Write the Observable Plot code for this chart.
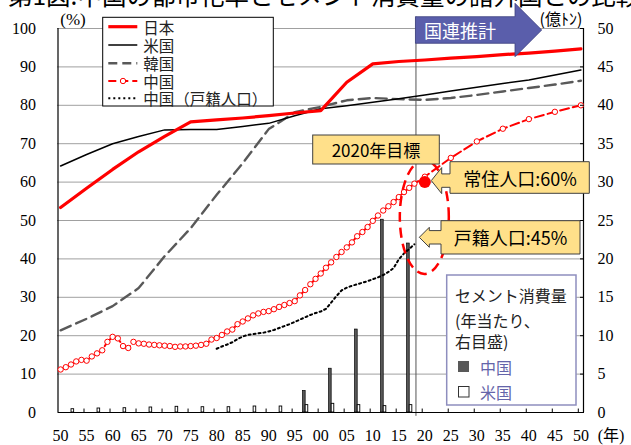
<!DOCTYPE html>
<html>
<head>
<meta charset="utf-8">
<script src="https://cdn.jsdelivr.net/npm/d3@7"></script>
<script src="https://cdn.jsdelivr.net/npm/@observablehq/plot@0.6"></script>
<style>
  body { margin: 0; background: #fff; }
  #wrap { position: relative; width: 631px; height: 445px; overflow: hidden; }
  #title { position: absolute; left: 8px; top: -17px; font: 400 24.5px/24px "Noto Sans CJK JP", sans-serif; white-space: nowrap; color: #000; }
  #chart { position: absolute; left: 0; top: 0; }
</style>
</head>
<body>
<div id="wrap">
  <div id="title">第1図:中国の都市化率とセメント消費量の諸外国との比較</div>
  <div id="chart"></div>
</div>
<script>
// Urbanization rate (%), five-year points, 1950–2050
const years5 = [1950, 1955, 1960, 1965, 1970, 1975, 1980, 1985, 1990, 1995, 2000,
                2005, 2010, 2015, 2020, 2025, 2030, 2035, 2040, 2045, 2050];
const japanUrban = [53.4, 58.4, 63.3, 67.9, 71.9, 75.7, 76.2, 76.7, 77.3, 78.0, 78.6,
                    86.0, 90.8, 91.4, 91.8, 92.3, 92.7, 93.2, 93.6, 94.1, 94.7];
const usUrban = [64.2, 67.2, 70.0, 71.9, 73.6, 73.7, 73.7, 74.5, 75.3, 77.3, 79.1,
                 79.9, 80.8, 81.7, 82.7, 83.7, 84.7, 85.7, 86.6, 87.9, 89.2];
const koreaUrban = [21.4, 24.4, 27.7, 32.4, 40.7, 48.0, 56.7, 64.9, 73.8, 78.2, 79.6,
                    81.3, 81.9, 81.6, 81.4, 81.9, 82.7, 83.6, 84.5, 85.4, 86.4];

// China: annual resident-population rate 1950–2018, then UN projection
const chinaYears = [...d3.range(1950, 2019), 2020, 2025, 2030, 2035, 2040, 2045, 2050];
const chinaUrban = [
  11.2, 11.8, 12.5, 13.3, 13.7, 13.5, 14.6, 15.4, 16.2, 18.4,
  19.7, 19.3, 17.3, 16.8, 18.4, 18.0, 17.9, 17.7, 17.6, 17.5,
  17.4, 17.3, 17.1, 17.2, 17.2, 17.3, 17.4, 17.6, 17.9, 19.0,
  19.4, 20.2, 21.1, 21.6, 23.0, 23.7, 24.5, 25.3, 25.8, 26.2,
  26.4, 26.9, 27.5, 28.0, 28.5, 29.0, 30.5, 31.9, 33.4, 34.8,
  36.2, 37.7, 39.1, 40.5, 41.8, 43.0, 44.3, 45.9, 47.0, 48.3,
  49.9, 51.3, 52.6, 53.7, 54.8, 56.1, 57.4, 58.5, 59.6,
  61.4, 66.3, 70.6, 73.9, 76.4, 78.3, 80.0
];

// China: registered (hukou) urban population share, 1980–2018
const hukouYears = d3.range(1980, 2019);
const hukouUrban = [
  16.6, 17.2, 17.7, 18.3, 19.1, 19.8, 20.2, 20.4, 20.6, 20.8,
  21.1, 21.5, 22.0, 22.5, 23.0, 23.6, 24.2, 24.8, 25.4, 25.9,
  26.3, 27.0, 28.6, 30.3, 31.8, 32.5, 33.0, 33.4, 33.8, 34.2,
  34.7, 35.2, 35.8, 36.6, 37.6, 39.9, 41.4, 42.6, 43.8
];

// 2020 target for the resident-population rate
const targetYear = 2020;
const targetRate = 60;

// Cement consumption per year (100 million t, right scale)
const cementYears = [1952, 1957, 1962, 1967, 1972, 1977, 1982, 1987, 1992, 1997, 2002, 2007, 2012, 2017];
const cementChina = [null, null, null, null, null, null, null, null, null, 2.8, 5.7, 10.8, 25.1, 22.0];
const cementUS = [0.43, 0.52, 0.56, 0.65, 0.74, 0.69, 0.69, 0.78, 0.78, 0.96, 1.13, 0.96, 0.83, 0.96];

// Axis ticks and labels
const yearLabels = d3.range(1950, 2051, 5);
const yearTickMarks = d3.range(1954.5, 2050, 5);
const pctTicks = d3.range(0, 101, 10);
const gridTicks = d3.range(10, 101, 10);
const forecastStart = 2018.3;

const toRows = (xs, vs) => xs.map((year, i) => ({year, value: vs[i]}));
const japan = toRows(years5, japanUrban);
const usa = toRows(years5, usUrban);
const korea = toRows(years5, koreaUrban);
const china = toRows(chinaYears, chinaUrban);
const hukou = toRows(hukouYears, hukouUrban);
const barsCN = cementYears.map((year, i) => ({year, value: cementChina[i]})).filter(d => d.value != null);
const barsUS = toRows(cementYears, cementUS);

const serif = '"Liberation Serif", "Times New Roman", "Noto Sans CJK JP", serif';
const cjk = '"Noto Sans CJK JP", sans-serif';

const plot = Plot.plot({
  width: 631,
  height: 445,
  marginLeft: 57.5,
  marginRight: 48,
  marginTop: 28,
  marginBottom: 33,
  style: {fontFamily: serif, fontSize: "16px", color: "#000", background: "transparent", overflow: "visible"},
  x: {domain: [1949.5, 2050.5]},
  y: {domain: [0, 100]},
  marks: [
    Plot.ruleY(gridTicks, {stroke: "#000", strokeWidth: 1, strokeDasharray: "1,1", strokeOpacity: 0.75}),
    // cement bars (right scale: 50 = 100%)
    Plot.rect(barsCN, {x1: d => d.year - 0.4, x2: d => d.year + 0.1, y1: 0, y2: d => d.value * 2,
      fill: "#595959", stroke: "#000", strokeWidth: 0.7}),
    Plot.rect(barsUS, {x1: d => d.year + 0.1, x2: d => d.year + 0.6, y1: 0, y2: d => d.value * 2,
      fill: "#fff", stroke: "#000", strokeWidth: 0.9}),
    Plot.ruleX(yearTickMarks, {y1: 0, y2: 0.9, stroke: "#000", strokeWidth: 1}),
    Plot.ruleX([forecastStart], {y1: -1, y2: 103, stroke: "#555", strokeWidth: 1}),
    // frame
    Plot.ruleX([1949.5], {stroke: "#000", strokeWidth: 1.2}),
    Plot.ruleX([2050.5], {stroke: "#000", strokeWidth: 1.2}),
    Plot.ruleY([0], {stroke: "#000", strokeWidth: 1.2}),
    // urbanization lines
    Plot.line(korea, {x: "year", y: "value", stroke: "#595959", strokeWidth: 2.4, strokeDasharray: "11,6"}),
    Plot.line(usa, {x: "year", y: "value", stroke: "#000", strokeWidth: 1.5}),
    Plot.line(japan, {x: "year", y: "value", stroke: "#f00", strokeWidth: 3.2}),
    Plot.line(hukou, {x: "year", y: "value", stroke: "#000", strokeWidth: 2, strokeDasharray: "2,3"}),
    Plot.line(china, {x: "year", y: "value", stroke: "#f00", strokeWidth: 2, strokeDasharray: "9,4"}),
    Plot.dot(china, {x: "year", y: "value", r: 2.7, fill: "#fff", stroke: "#f00", strokeWidth: 1}),
    Plot.dot([{year: targetYear, value: targetRate}], {x: "year", y: "value", r: 6, fill: "#f00"}),
    // axes
    Plot.axisX({ticks: yearLabels, tickSize: 0, tickPadding: 17, fontSize: 16,
      tickFormat: d => String(d % 100).padStart(2, "0"), label: null}),
    Plot.axisY({ticks: pctTicks, tickSize: 0, tickPadding: 22, fontSize: 16, label: null}),
    Plot.axisY({anchor: "right", ticks: pctTicks, tickSize: -4, tickPadding: 18, fontSize: 16,
      tickFormat: d => d / 2, label: null})
  ]
});

document.getElementById("chart").append(plot);

const svg = d3.select(plot);
const sx = v => plot.scale("x").apply(v);
const sy = v => plot.scale("y").apply(v);
const g = svg.append("g").attr("font-family", cjk).attr("text-anchor", "start")
  .attr("fill", "#000").attr("stroke", "none");

function label(x, y, text, size, opts = {}) {
  return g.append("text").attr("x", x).attr("y", y)
    .attr("text-anchor", opts.anchor || "start")
    .attr("dominant-baseline", "central")
    .attr("font-family", opts.font || cjk)
    .attr("font-size", size)
    .attr("fill", opts.fill || "#000")
    .attr("stroke", "none")
    .text(text);
}
function box(x, y, w, h, fill, stroke, sw) {
  return g.append("rect").attr("x", x).attr("y", y).attr("width", w).attr("height", h)
    .attr("fill", fill).attr("stroke", stroke || "none").attr("stroke-width", sw || 0);
}

// unit labels
label(73, 19, "(%)", 17, {anchor: "middle", font: serif});
label(561, 18, "(億ﾄﾝ)", 16, {anchor: "middle"});
label(611, 435, "(年)", 16, {anchor: "middle", font: serif});

// highlight ellipse around 2020
g.append("ellipse").attr("cx", sx(targetYear)).attr("cy", sy(50.8)).attr("rx", 24.5).attr("ry", 57)
  .attr("fill", "none").attr("stroke", "#f00").attr("stroke-width", 2.5).attr("stroke-dasharray", "10,6");

const gold = "#FFE08A";
// 2020 target box
box(312.7, 135, 126.6, 29, gold, "#404040", 1);
label(376, 149.5, "2020年目標", 17, {anchor: "middle"});

// left-pointing callouts
function callout(tipX, tipY, headX, stemX, right, top, bottom, headHalf, stemHalf, text, cx) {
  const pts = [
    [stemX, top], [right, top], [right, bottom], [stemX, bottom],
    [stemX, tipY + stemHalf], [headX, tipY + stemHalf], [headX, tipY + headHalf],
    [tipX, tipY], [headX, tipY - headHalf], [headX, tipY - stemHalf], [stemX, tipY - stemHalf]
  ];
  g.append("path").attr("d", "M" + pts.map(p => p.join(",")).join("L") + "Z")
    .attr("fill", gold).attr("stroke", "#404040").attr("stroke-width", 1);
  label(cx, (top + bottom) / 2, text, 18, {anchor: "middle"});
}
callout(sx(targetYear) + 7, sy(targetRate) - 1, 441.7, 450, 589.3, 161.7, 193.3, 13, 6.7, "常住人口:60%", 520);
callout(419.3, 237.3, 429.3, 441, 580, 220.7, 254, 10, 6.7, "戸籍人口:45%", 510.5);

// UN projection arrow
const ax = sx(forecastStart);
const arrowPts = [[ax, 16.7], [515, 16.7], [515, 3.3], [541.7, 30], [515, 56.7], [515, 43.3], [ax, 43.3]];
g.append("path").attr("d", "M" + arrowPts.map(p => p.join(",")).join("L") + "Z")
  .attr("fill", "#5A5EAB").attr("stroke", "#3D4180").attr("stroke-width", 0.8);
label(460, 30, "国連推計", 18, {anchor: "middle", fill: "#fff"});

// series legend (top left)
box(102.7, 17.3, 170.6, 88.7, "#fff", "#000", 1);
const legendItems = [
  {text: "日本", stroke: "#f00", width: 3.2, dash: null, dot: false},
  {text: "米国", stroke: "#000", width: 1.5, dash: null, dot: false},
  {text: "韓国", stroke: "#595959", width: 2.4, dash: "9,5", dot: false},
  {text: "中国", stroke: "#f00", width: 2, dash: "8,4", dot: true},
  {text: "中国（戸籍人口）", stroke: "#000", width: 2, dash: "2,3", dot: false}
];
const legendY = [26.7, 45, 63.3, 81, 98.3];
legendItems.forEach((it, i) => {
  const y0 = legendY[i];
  const ln = g.append("line").attr("x1", 108.3).attr("x2", 137.3).attr("y1", y0).attr("y2", y0)
    .attr("stroke", it.stroke).attr("stroke-width", it.width);
  if (it.dash) ln.attr("stroke-dasharray", it.dash);
  if (it.dot) g.append("circle").attr("cx", 123).attr("cy", y0).attr("r", 2.7)
    .attr("fill", "#fff").attr("stroke", "#f00").attr("stroke-width", 1);
  label(143.3, y0, it.text, 15.5, {fill: "#222"});
});

// cement legend (bottom right)
box(446.7, 275, 129.3, 130, "#fff", "#8E8EBE", 1.5);
[["セメント消費量", 295], ["(年当たり、", 320], ["右目盛)", 340.7]].forEach(([t, y0]) => {
  label(455, y0, t, 16, {fill: "#222"});
});
box(458, 361, 11, 11, "#595959");
box(458.5, 386.5, 10.5, 10.5, "#fff", "#333", 1);
label(480, 366.7, "中国", 16, {fill: "#6464AA"});
label(480, 391.7, "米国", 16, {fill: "#6464AA"});
</script>
</body>
</html>
